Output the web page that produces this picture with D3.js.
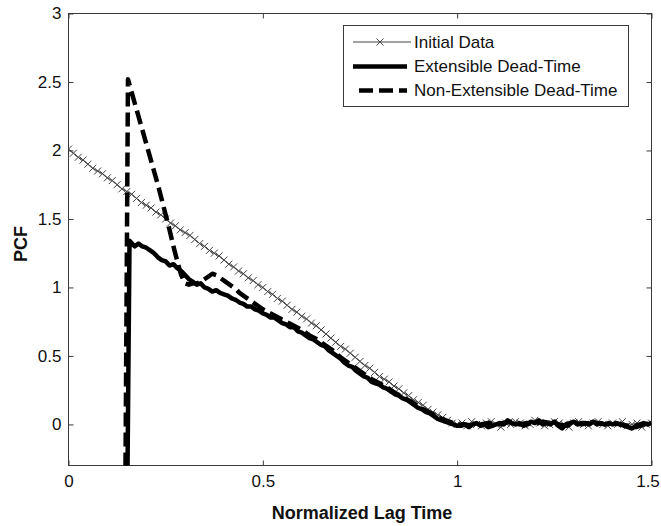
<!DOCTYPE html>
<html>
<head>
<meta charset="utf-8">
<script src="https://cdn.jsdelivr.net/npm/d3@7"></script>
<style>
  body { margin: 0; background: #fff; }
  svg text { font-family: "Liberation Sans", Arial, sans-serif; fill: #111; }
</style>
</head>
<body>
<svg id="chart" width="661" height="526"></svg>
<script>
// ---- data ----
const xTicks = [0, 0.5, 1, 1.5];
const yTicks = [0, 0.5, 1, 1.5, 2, 2.5, 3];
const seriesNames = ["Initial Data", "Extensible Dead-Time", "Non-Extensible Dead-Time"];

const lagInit = [0,0.0125,0.025,0.0375,0.05,0.0625,0.075,0.0875,0.1,0.1125,0.125,0.1375,0.15,0.1625,0.175,0.1875,
  0.2,0.2125,0.225,0.2375,0.25,0.2625,0.275,0.2875,0.3,0.3125,0.325,0.3375,0.35,0.3625,0.375,0.3875,
  0.4,0.4125,0.425,0.4375,0.45,0.4625,0.475,0.4875,0.5,0.5125,0.525,0.5375,0.55,0.5625,0.575,0.5875,
  0.6,0.6125,0.625,0.6375,0.65,0.6625,0.675,0.6875,0.7,0.7125,0.725,0.7375,0.75,0.7625,0.775,0.7875,
  0.8,0.8125,0.825,0.8375,0.85,0.8625,0.875,0.8875,0.9,0.9125,0.925,0.9375,0.95,0.9625,0.975,0.9875,
  1,1.0125,1.025,1.0375,1.05,1.0625,1.075,1.0875,1.1,1.1125,1.125,1.1375,1.15,1.1625,1.175,1.1875,
  1.2,1.2125,1.225,1.2375,1.25,1.2625,1.275,1.2875,1.3,1.3125,1.325,1.3375,1.35,1.3625,1.375,1.3875,
  1.4,1.4125,1.425,1.4375,1.45,1.4625,1.475,1.4875,1.5];
const pcfInit = [2.01,1.98,1.95,1.93,1.90,1.87,1.85,1.83,1.80,1.78,1.75,1.72,1.70,1.68,1.65,1.62,
  1.60,1.58,1.55,1.53,1.50,1.47,1.45,1.42,1.40,1.38,1.35,1.32,1.30,1.27,1.25,1.23,
  1.20,1.17,1.15,1.12,1.10,1.07,1.05,1.02,1.00,0.97,0.95,0.92,0.90,0.87,0.84,0.82,
  0.79,0.77,0.74,0.72,0.69,0.66,0.63,0.60,0.57,0.55,0.52,0.49,0.46,0.43,0.41,0.38,
  0.35,0.33,0.31,0.28,0.26,0.23,0.21,0.18,0.16,0.14,0.11,0.09,0.07,0.05,0.03,0.01,
  0.00,0.01,-0.01,0.02,0.00,-0.01,0.01,0.02,0.00,-0.02,0.01,0.00,0.02,0.01,-0.01,0.00,
  0.03,0.01,-0.01,0.00,0.02,0.01,0.00,-0.02,0.01,0.02,0.00,-0.01,0.01,0.02,0.00,-0.01,
  0.01,0.00,0.02,-0.01,0.00,0.01,-0.02,0.00,0.01];

const lagExt = [0.151,0.157,0.17,0.18,0.19,0.2,0.21,0.22,0.23,0.24,0.25,0.26,0.27,0.28,0.29,
  0.3,0.31,0.32,0.33,0.34,0.35,0.36,0.37,0.38,0.39,0.4,0.41,0.42,0.43,0.44,0.45,0.46,0.47,0.48,0.49,
  0.5,0.51,0.52,0.53,0.54,0.55,0.56,0.57,0.58,0.59,0.6,0.61,0.62,0.63,0.64,0.65,0.66,0.67,0.68,0.69,
  0.7,0.71,0.72,0.73,0.74,0.75,0.76,0.77,0.78,0.79,0.8,0.81,0.82,0.83,0.84,0.85,0.86,0.87,0.88,0.89,
  0.9,0.91,0.92,0.93,0.94,0.95,0.96,0.97,0.98,0.99,1,1.01,1.02,1.03,1.04,1.05,1.06,1.07,1.08,1.09,
  1.1,1.11,1.12,1.13,1.14,1.15,1.16,1.17,1.18,1.19,1.2,1.21,1.22,1.23,1.24,1.25,1.26,1.27,1.28,1.29,
  1.3,1.31,1.32,1.33,1.34,1.35,1.36,1.37,1.38,1.39,1.4,1.41,1.42,1.43,1.44,1.45,1.46,1.47,1.48,1.49,1.5];
const pcfExt = [-0.6,1.34,1.30,1.32,1.30,1.29,1.27,1.25,1.22,1.20,1.19,1.16,1.17,1.14,1.12,
  1.09,1.06,1.04,1.02,1.03,1.00,0.99,0.97,0.98,0.96,0.95,0.94,0.92,0.91,0.89,0.88,0.86,0.86,0.84,0.83,
  0.81,0.80,0.78,0.78,0.76,0.74,0.73,0.71,0.71,0.68,0.67,0.65,0.63,0.62,0.60,0.58,0.57,0.54,0.52,0.50,
  0.48,0.45,0.43,0.42,0.39,0.37,0.35,0.34,0.31,0.30,0.29,0.27,0.26,0.24,0.22,0.21,0.19,0.18,0.16,0.14,
  0.12,0.11,0.09,0.08,0.06,0.04,0.03,0.02,0.01,0.00,-0.01,-0.01,0.00,-0.02,0.00,0.01,-0.01,0.00,-0.02,-0.01,
  0.00,0.01,0.00,0.03,0.01,0.00,0.01,-0.01,0.00,0.02,0.01,0.03,0.00,0.01,0.00,0.02,-0.01,-0.03,0.00,0.01,
  0.02,0.00,0.01,0.01,0.00,0.02,0.00,0.01,0.00,0.01,0.00,0.01,0.00,-0.01,-0.02,-0.03,-0.01,0.00,0.01,0.00,0.01];

const lagNon = [0.146,0.153,0.16,0.17,0.18,0.19,0.2,0.21,0.22,0.23,0.24,0.25,0.26,0.27,0.28,0.29,
  0.3,0.31,0.32,0.33,0.34,0.35,0.36,0.37,0.38,0.39,0.4,0.41,0.42,0.43,0.44,0.45,0.46,0.47,0.48,0.49,0.5,
  0.52,0.54,0.56,0.58,0.6,0.62,0.64,0.66,0.68,0.7,0.72,0.74,0.76,0.78,0.8,0.82,0.84,0.86,0.88,0.9,
  0.92,0.94,0.96,0.98,1,1.02,1.04,1.06,1.08,1.1,1.12,1.14,1.16,1.18,1.2,1.22,1.24,1.26,1.28,1.3,
  1.32,1.34,1.36,1.38,1.4,1.42,1.44,1.46,1.48,1.5];
const pcfNon = [-0.6,2.52,2.45,2.35,2.25,2.15,2.05,1.95,1.85,1.75,1.64,1.53,1.42,1.30,1.19,1.09,
  1.03,1.02,1.03,1.03,1.04,1.06,1.08,1.10,1.09,1.07,1.05,1.03,1.01,0.99,0.96,0.94,0.92,0.90,0.88,0.86,0.84,
  0.81,0.78,0.75,0.72,0.69,0.65,0.62,0.58,0.54,0.49,0.45,0.41,0.37,0.33,0.30,0.27,0.23,0.20,0.17,0.13,
  0.10,0.07,0.04,0.02,0.00,0.00,-0.01,0.00,0.01,0.00,0.01,0.02,0.00,0.01,0.00,0.02,0.01,0.00,-0.01,0.01,
  0.00,0.01,0.01,0.00,0.01,0.00,-0.01,-0.02,0.00,0.01];

// ---- layout ----
const svg = d3.select("#chart");
const x = d3.scaleLinear().domain([0, 1.5]).range([68.5, 651.5]);
const y = d3.scaleLinear().domain([-0.3, 3]).range([465.5, 13.5]);
const [x0, x1] = x.range();
const [yb, yt] = y.range();

svg.append("defs").append("clipPath").attr("id", "plotClip")
  .append("rect").attr("x", x0).attr("y", yt).attr("width", x1 - x0).attr("height", yb - yt);

// axes (MATLAB style: ticks inside, box all round)
const axisColor = "#3a3a3a";
function styleAxis(g) {
  g.select(".domain").remove();
  g.selectAll(".tick line").attr("stroke", axisColor);
  g.selectAll(".tick text").attr("font-size", 17).attr("fill", "#151515")
    .attr("font-family", "'Liberation Sans', Arial, sans-serif");
}
const bottomAxis = svg.append("g").attr("transform", `translate(0,${yb})`)
  .call(d3.axisBottom(x).tickValues(xTicks).tickSize(-5).tickSizeOuter(0).tickPadding(9).tickFormat(d => d))
  .call(styleAxis);
// last label sits against the page edge
bottomAxis.selectAll(".tick text").filter(d => d === xTicks[xTicks.length - 1]).attr("dx", -4);

svg.append("g").attr("transform", `translate(0,${yt})`)
  .call(d3.axisTop(x).tickValues(xTicks).tickSize(-5).tickSizeOuter(0).tickFormat(""))
  .call(styleAxis);
svg.append("g").attr("transform", `translate(${x0},0)`)
  .call(d3.axisLeft(y).tickValues(yTicks).tickSize(-5).tickSizeOuter(0).tickPadding(7).tickFormat(d => d))
  .call(styleAxis);
svg.append("g").attr("transform", `translate(${x1},0)`)
  .call(d3.axisRight(y).tickValues(yTicks).tickSize(-5).tickSizeOuter(0).tickFormat(""))
  .call(styleAxis);

svg.append("rect").attr("x", x0).attr("y", yt).attr("width", x1 - x0).attr("height", yb - yt)
  .attr("fill", "none").attr("stroke", axisColor).attr("stroke-width", 1);

// axis titles
svg.append("text").attr("x", (x0 + x1) / 2 + 2).attr("y", 519).attr("text-anchor", "middle")
  .attr("font-size", 18).attr("font-weight", "bold").text("Normalized Lag Time");
svg.append("text").attr("transform", "translate(27,244) rotate(-90)").attr("text-anchor", "middle")
  .attr("font-size", 18).attr("font-weight", "bold").text("PCF");

// series
const line = d3.line().x(d => x(d[0])).y(d => y(d[1]));
const plot = svg.append("g").attr("clip-path", "url(#plotClip)");
const initData = d3.zip(lagInit, pcfInit);
const extData = d3.zip(lagExt, pcfExt);
const nonData = d3.zip(lagNon, pcfNon);

const initColor = "#444";
const xMark = "M-3.5,-3.5L3.5,3.5M-3.5,3.5L3.5,-3.5";

plot.append("path").datum(initData).attr("d", line)
  .attr("fill", "none").attr("stroke", initColor).attr("stroke-width", 1);
plot.append("g").selectAll("path").data(initData).enter().append("path")
  .attr("d", xMark).attr("transform", d => `translate(${x(d[0])},${y(d[1])})`)
  .attr("stroke", initColor).attr("stroke-width", 1).attr("fill", "none");

plot.append("path").datum(extData).attr("d", line)
  .attr("fill", "none").attr("stroke", "#000").attr("stroke-width", 4.5).attr("stroke-linejoin", "round");

plot.append("path").datum(nonData).attr("d", line)
  .attr("fill", "none").attr("stroke", "#000").attr("stroke-width", 4.5)
  .attr("stroke-dasharray", "14,6").attr("stroke-linejoin", "round");

// legend
const legend = svg.append("g");
legend.append("rect").attr("x", 343.5).attr("y", 25.5).attr("width", 285).attr("height", 81)
  .attr("fill", "#fff").attr("stroke", axisColor);
const rowY = [42, 66.5, 90.5];
const rows = legend.selectAll("g.row").data(seriesNames).enter().append("g")
  .attr("transform", (d, i) => `translate(0,${rowY[i]})`);
rows.append("text").attr("x", 414).attr("dy", "0.35em").attr("font-size", 17).text(d => d);
rows.append("line").attr("y1", 0).attr("y2", 0)
  .attr("stroke", (d, i) => i === 0 ? initColor : "#000")
  .attr("stroke-width", (d, i) => i === 0 ? 1 : 4.5)
  .attr("stroke-dasharray", (d, i) => i === 2 ? "14,6" : null)
  .attr("x1", (d, i) => i === 2 ? 359 : 353)
  .attr("x2", (d, i) => i === 0 ? 411 : 407);
rows.filter((d, i) => i === 0).append("path").attr("d", xMark)
  .attr("transform", "translate(380,0)").attr("stroke", initColor).attr("fill", "none");
</script>
</body>
</html>
